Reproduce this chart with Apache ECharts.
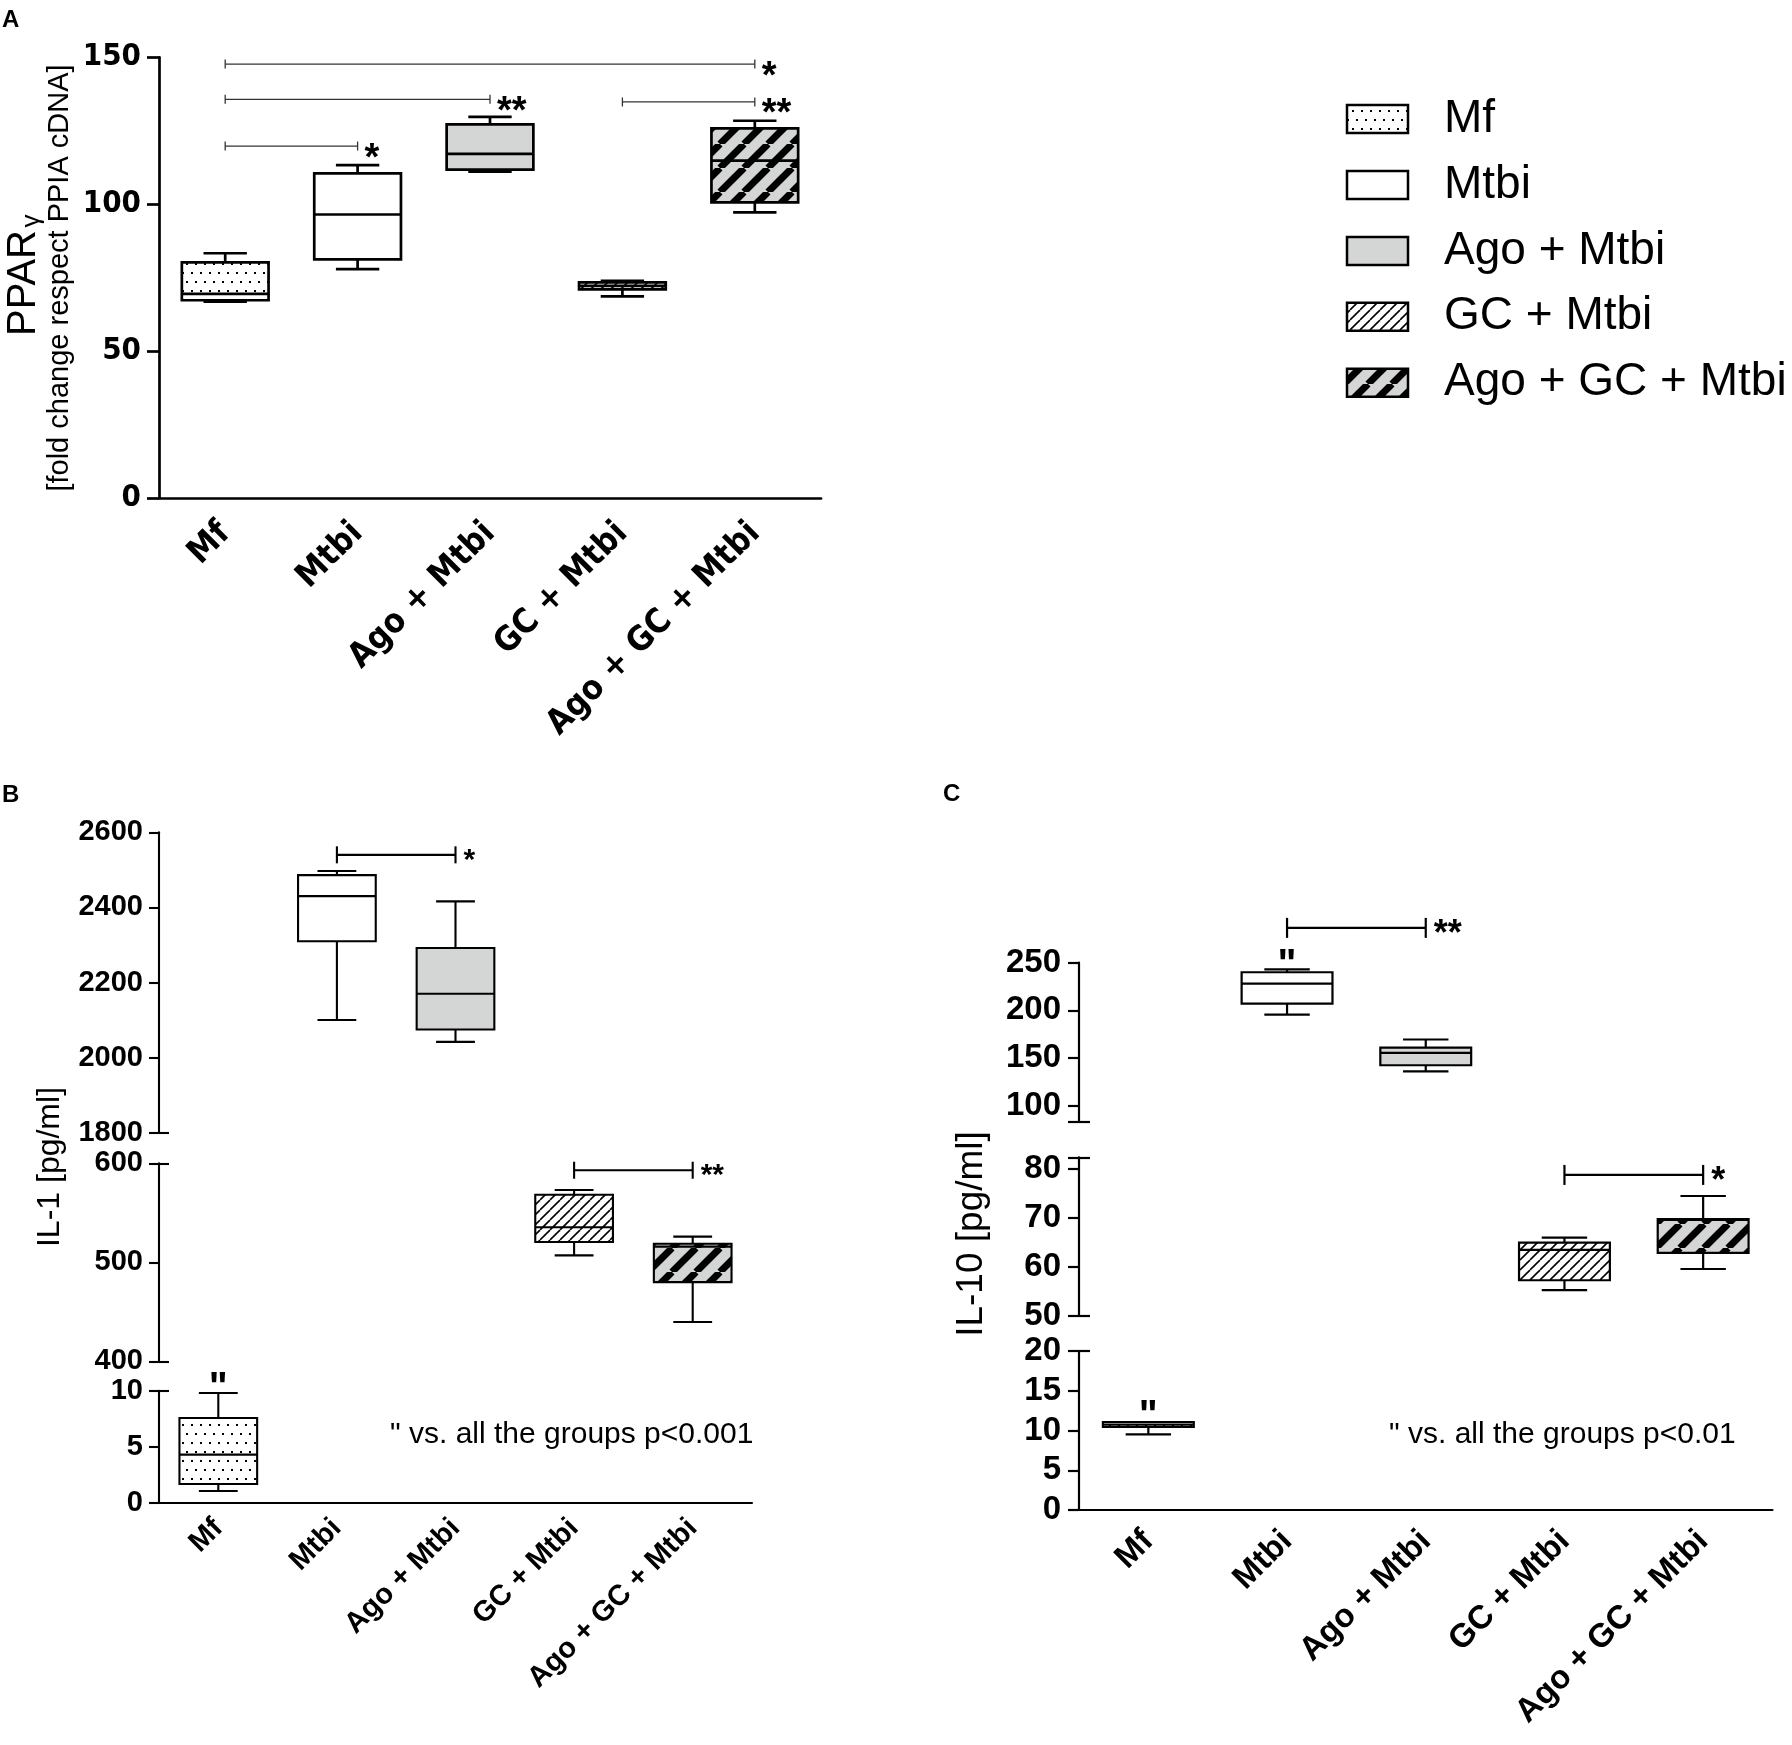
<!DOCTYPE html>
<html>
<head>
<meta charset="utf-8">
<title>PPARγ, IL-1 and IL-10</title>
<script src="https://cdn.jsdelivr.net/npm/echarts@6/dist/echarts.min.js"></script>
<style>
  html, body { margin: 0; padding: 0; background: #fff; }
  #chart { width: 1792px; height: 1745px; }
</style>
</head>
<body>
<div id="chart"></div>
<script>
// groups, same order on every panel
const categories = ['Mf', 'Mtbi', 'Ago + Mtbi', 'GC + Mtbi', 'Ago + GC + Mtbi'];

// box values per group: [min, q1, median, q3, max]
const ppargBoxes = [
  [66.8, 67.3, 69.5, 80.2, 83.3],
  [77.9, 81.2, 96.5, 110.5, 113.3],
  [111.1, 111.8, 117.1, 127.2, 129.7],
  [68.6, 71.0, 72.2, 73.4, 73.9],
  [97.2, 100.6, 114.8, 125.8, 128.4]
];
const il1Boxes = [
  [1.04, 1.67, 4.29, 7.56, 9.8],
  [2100, 2310, 2430, 2486, 2497],
  [2042, 2075, 2170, 2292, 2416],
  [507, 520.5, 535.4, 568.3, 573],
  [439.7, 480, 515.8, 518.8, 525.9]
];
const il10Boxes = [
  [9.52, 10.44, 10.73, 11.07, 11.07],
  [195.5, 207, 228, 240, 243],
  [136, 142.5, 155.5, 161, 169.5],
  [55.3, 57.3, 63.5, 65.0, 66.0],
  [59.6, 62.9, 69.6, 69.8, 74.5]
];

// broken axes: pieces from top to bottom
const ppargRange = [0, 150];
const ppargTicks = [0, 50, 100, 150];
const il1Ranges = [[1800, 2600], [400, 600], [0, 10]];
const il1Ticks = [[1800, 2000, 2200, 2400, 2600], [400, 500, 600], [0, 5, 10]];
const il1Groups = [[1, 2], [3, 4], [0]];
const il10Ranges = [[83.3, 250], [50, 82.4], [0, 20]];
const il10Ticks = [[100, 150, 200, 250], [50, 60, 70, 80], [0, 5, 10, 15, 20]];
const il10Groups = [[1, 2], [3, 4], [0]];

// significance brackets: [from group, to group, height]
const ppargBrackets = [[0, 4, 147.7], [0, 2, 135.7], [3, 4, 134.8], [0, 1, 119.8]];
const ppargStars = ['*', '**', '**', '*'];
const il1Brackets = [[[1, 2, 2540]], [[3, 4, 593]], []];
const il1Stars = [['*'], ['**'], []];
const il10Brackets = [[[1, 2, 286.5]], [[3, 4, 78.8]], []];
const il10Stars = [['**'], ['*'], []];

// " marks over boxes: [group, height]
const il1Marks = [[], [], [[0, 11.1]]];
const il10Marks = [[[1, 257]], [], [[0, 13]]];

const BLACK = '#000';
const GRAY = '#d4d6d6';
const SANS = "'Liberation Sans', Arial, sans-serif";
const NARROW = "'Liberation Sans Narrow', 'Arial Narrow', 'DejaVu Sans Condensed', sans-serif";

function tile(w, h, draw) {
  const c = document.createElement('canvas');
  c.width = w;
  c.height = h;
  draw(c.getContext('2d'));
  return { image: c, repeat: 'repeat' };
}
function stripes(p, w, bg) {
  return tile(p, p, (ctx) => {
    ctx.fillStyle = bg;
    ctx.fillRect(0, 0, p, p);
    ctx.strokeStyle = BLACK;
    ctx.lineWidth = w;
    for (let k = -1; k <= 1; k++) {
      ctx.beginPath();
      ctx.moveTo(k * p, p);
      ctx.lineTo(k * p + p, 0);
      ctx.stroke();
    }
  });
}
const dots = tile(18, 18, (ctx) => {
  ctx.fillStyle = '#fff';
  ctx.fillRect(0, 0, 18, 18);
  ctx.fillStyle = BLACK;
  [[2, 2], [11, 2], [6, 11], [15, 11]].forEach(([x, y]) => ctx.fillRect(x, y, 2, 2));
});
const fills = [dots, '#fff', GRAY, stripes(10, 1.6, '#fff'), stripes(24, 7, GRAY)];

function boxRenderer(lw) {
  return function (params, api) {
    const i = api.value(0);
    const x = api.coord([i, 0])[0];
    const w = api.size([1, 0])[0] * 0.655;
    const [yMin, yQ1, yMed, yQ3, yMax] = [1, 2, 3, 4, 5].map(d => api.coord([i, api.value(d)])[1]);
    const seg = (x1, y1, x2, y2) => ({
      type: 'line', shape: { x1, y1, x2, y2 }, style: { stroke: BLACK, lineWidth: lw }
    });
    return {
      type: 'group',
      children: [
        seg(x, yQ3, x, yMax), seg(x - w / 4, yMax, x + w / 4, yMax),
        seg(x, yQ1, x, yMin), seg(x - w / 4, yMin, x + w / 4, yMin),
        {
          type: 'rect',
          shape: { x: x - w / 2, y: yQ3, width: w, height: yQ1 - yQ3 },
          style: { fill: fills[i], stroke: BLACK, lineWidth: lw }
        },
        seg(x - w / 2, yMed, x + w / 2, yMed)
      ]
    };
  };
}

function bracketRenderer(stars, b) {
  return function (params, api) {
    const a = api.coord([api.value(0), api.value(2)]);
    const e = api.coord([api.value(1), api.value(2)]);
    const st = { stroke: b.color, lineWidth: b.lw };
    return {
      type: 'group',
      children: [
        { type: 'line', shape: { x1: a[0], y1: a[1], x2: e[0], y2: e[1] }, style: st },
        { type: 'line', shape: { x1: a[0], y1: a[1] - b.cap, x2: a[0], y2: a[1] + b.cap }, style: st },
        { type: 'line', shape: { x1: e[0], y1: e[1] - b.cap, x2: e[0], y2: e[1] + b.cap }, style: st },
        {
          type: 'text', x: e[0] + b.gap, y: e[1] + b.dy,
          style: {
            text: stars[params.dataIndex], fill: BLACK, fontSize: b.font, fontWeight: 'bold',
            fontFamily: SANS, align: 'left', verticalAlign: 'middle'
          }
        }
      ]
    };
  };
}

function markRenderer(size) {
  return function (params, api) {
    const p = api.coord([api.value(0), api.value(1)]);
    return {
      type: 'text', x: p[0], y: p[1] + size * 0.26,
      style: {
        text: '"', fill: BLACK, fontSize: size, fontWeight: 'bold', fontFamily: SANS,
        align: 'center', verticalAlign: 'middle'
      }
    };
  };
}

const grid = [], xAxis = [], yAxis = [], series = [];

function piece(p) {
  const gi = grid.length;
  grid.push({ left: p.rect[0], top: p.rect[1], width: p.rect[2], height: p.rect[3] });
  const lineStyle = { color: BLACK, width: p.lw };
  xAxis.push({
    type: 'category', gridIndex: gi, data: categories, show: p.showX,
    axisLine: { show: true, lineStyle },
    axisTick: { alignWithLabel: true, length: p.xTick, lineStyle },
    axisLabel: {
      interval: 0, rotate: 45, margin: p.xMargin, color: BLACK,
      fontSize: p.xFont, fontWeight: 'bold', fontFamily: p.xFamily
    }
  });
  const yi = yAxis.length;
  yAxis.push({
    type: 'value', gridIndex: gi, min: p.range[0], max: p.range[1],
    axisLine: { show: true, lineStyle },
    splitLine: { show: false },
    axisTick: { show: true, length: p.yTick, customValues: p.tickAt || p.ticks, lineStyle },
    axisLabel: {
      customValues: p.ticks, margin: p.yMargin, color: BLACK,
      fontSize: p.yFont, fontWeight: 'bold', fontFamily: p.yFamily,
      formatter: v => String(v)
    }
  });
  if (p.breaks && p.breaks.length) {
    yAxis.push({
      type: 'value', gridIndex: gi, min: p.range[0], max: p.range[1], position: 'left',
      axisLine: { show: false }, axisLabel: { show: false }, splitLine: { show: false },
      axisTick: { show: true, inside: true, length: p.yTick, customValues: p.breaks, lineStyle }
    });
  }
  series.push({
    type: 'custom', xAxisIndex: gi, yAxisIndex: yi, z: 3,
    renderItem: boxRenderer(p.lw),
    encode: { x: 0, y: [1, 2, 3, 4, 5] },
    data: p.groups.map(i => [i].concat(p.boxes[i]))
  });
  if (p.brackets.length) {
    series.push({
      type: 'custom', xAxisIndex: gi, yAxisIndex: yi, z: 4,
      renderItem: bracketRenderer(p.stars, p.bracket),
      encode: { x: [0, 1], y: 2 },
      data: p.brackets
    });
  }
  if (p.marks && p.marks.length) {
    series.push({
      type: 'custom', xAxisIndex: gi, yAxisIndex: yi, z: 4,
      renderItem: markRenderer(p.markFont),
      encode: { x: 0, y: 1 },
      data: p.marks
    });
  }
}

// A: PPARγ
piece({
  rect: [159, 57.3, 662, 440.7], range: ppargRange, ticks: ppargTicks,
  showX: true, lw: 2.7, xTick: 12, yTick: 12, xMargin: 30, yMargin: 18,
  xFont: 34, xFamily: NARROW, yFont: 31, yFamily: NARROW,
  groups: [0, 1, 2, 3, 4], boxes: ppargBoxes,
  brackets: ppargBrackets, stars: ppargStars,
  bracket: { color: '#333', lw: 1.3, cap: 4.5, gap: 7, dy: 13, font: 38 }
});

// B: IL-1, three pieces
const il1Rects = [[159, 832.3, 593, 300.4], [159, 1163.3, 593, 198], [159, 1390.7, 593, 112]];
const il1Breaks = [[1800], [400, 600], [10]];
il1Ranges.forEach((r, k) => piece({
  rect: il1Rects[k], range: r, ticks: il1Ticks[k], breaks: il1Breaks[k],
  showX: k === 2, lw: 2.1, xTick: 11, yTick: 10, xMargin: 21, yMargin: 16,
  xFont: 29, xFamily: SANS, yFont: 29, yFamily: SANS,
  groups: il1Groups[k], boxes: il1Boxes,
  brackets: il1Brackets[k], stars: il1Stars[k],
  bracket: { color: BLACK, lw: 2.1, cap: 8.5, gap: 8, dy: 6, font: 30 },
  marks: il1Marks[k], markFont: 40
}));

// C: IL-10, three pieces
const il10Rects = [[1079, 962.7, 693.5, 159], [1079, 1157.3, 693.5, 158.7], [1079, 1351, 693.5, 159]];
const il10TickAt = [[83.3, 100, 150, 200, 250], [50, 60, 70, 80, 82.4], [0, 5, 10, 15, 20]];
const il10Breaks = [[83.3], [50, 82.4], [20]];
il10Ranges.forEach((r, k) => piece({
  rect: il10Rects[k], range: r, ticks: il10Ticks[k], tickAt: il10TickAt[k], breaks: il10Breaks[k],
  showX: k === 2, lw: 2.2, xTick: 12, yTick: 11, xMargin: 26, yMargin: 18,
  xFont: 33, xFamily: SANS, yFont: 33, yFamily: SANS,
  groups: il10Groups[k], boxes: il10Boxes,
  brackets: il10Brackets[k], stars: il10Stars[k],
  bracket: { color: BLACK, lw: 2.2, cap: 10, gap: 8, dy: 7.5, font: 36 },
  marks: il10Marks[k], markFont: 40
}));

function label(text, x, y, size, extra) {
  return {
    type: 'text', x, y,
    style: Object.assign({
      text, fill: BLACK, fontSize: size, fontFamily: SANS, align: 'left', verticalAlign: 'middle'
    }, extra || {})
  };
}
function vlabel(text, x, y, size) {
  const t = label(text, x, y, size, { align: 'center' });
  t.rotation = Math.PI / 2;
  return t;
}

const graphic = [
  label('A', 2, 20, 24, { fontWeight: 'bold' }),
  label('B', 2, 795, 24, { fontWeight: 'bold' }),
  label('C', 943, 794, 24, { fontWeight: 'bold' }),
  vlabel('PPAR', 24, 283, 40),
  vlabel('γ', 32, 221, 26),
  vlabel('[fold change respect PPIA cDNA]', 60, 278, 29),
  vlabel('IL-1 [pg/ml]', 50, 1167, 32),
  vlabel('IL-10 [pg/ml]', 972, 1234, 37),
  label('" vs. all the groups p<0.001', 390, 1435, 30),
  label('" vs. all the groups p<0.01', 1389, 1435, 30)
];

// legend
const legendRows = [119, 185, 251, 316.7, 382.7];
categories.forEach((name, i) => {
  graphic.push({
    type: 'rect', shape: { x: 1347, y: legendRows[i] - 14, width: 61, height: 28 },
    style: { fill: fills[i], stroke: BLACK, lineWidth: 2.5 }
  });
  graphic.push(label(name, 1444, legendRows[i], 46));
});

const chart = echarts.init(document.getElementById('chart'));
chart.setOption({
  backgroundColor: '#fff',
  animation: false,
  grid, xAxis, yAxis, series, graphic
});
</script>
</body>
</html>
